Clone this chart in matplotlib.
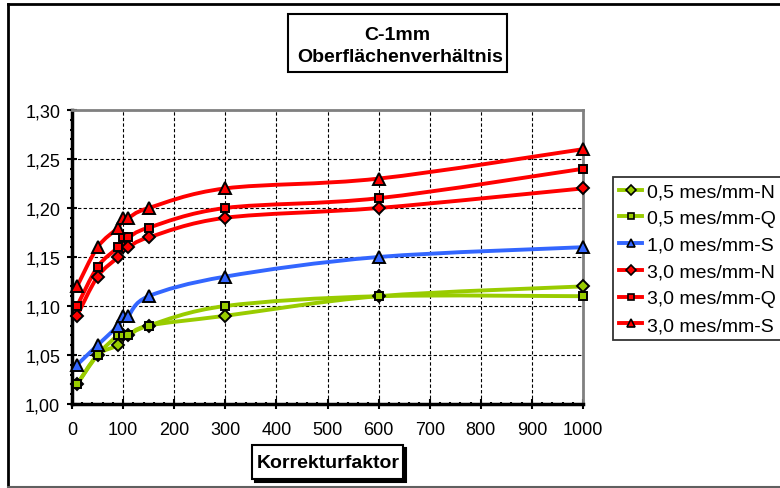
import numpy as np
import matplotlib
matplotlib.use("Agg")
import matplotlib.pyplot as plt
from matplotlib.path import Path
from matplotlib.patches import PathPatch, Rectangle
from matplotlib.lines import Line2D
from matplotlib.ticker import MultipleLocator, FuncFormatter

plt.rcParams['font.family'] = ['Liberation Sans', 'DejaVu Sans']

x = [10, 50, 90, 100, 110, 150, 300, 600, 1000]
series_labels = ["0,5 mes/mm-N", "0,5 mes/mm-Q", "1,0 mes/mm-S",
                 "3,0 mes/mm-N", "3,0 mes/mm-Q", "3,0 mes/mm-S"]
y_05N = [1.02, 1.05, 1.06, 1.07, 1.07, 1.08, 1.09, 1.11, 1.12]
y_05Q = [1.02, 1.05, 1.07, 1.07, 1.07, 1.08, 1.10, 1.11, 1.11]
y_10S = [1.04, 1.06, 1.08, 1.09, 1.09, 1.11, 1.13, 1.15, 1.16]
y_30N = [1.09, 1.13, 1.15, 1.16, 1.16, 1.17, 1.19, 1.20, 1.22]
y_30Q = [1.10, 1.14, 1.16, 1.17, 1.17, 1.18, 1.20, 1.21, 1.24]
y_30S = [1.12, 1.16, 1.18, 1.19, 1.19, 1.20, 1.22, 1.23, 1.26]
series_values = [y_05N, y_05Q, y_10S, y_30N, y_30Q, y_30S]
colors = ["#99CC00", "#99CC00", "#3366FF", "#FF0000", "#FF0000", "#FF0000"]
markers = ["D", "s", "^", "D", "s", "^"]
msizes = [6.5, 6.0, 8.0, 6.5, 6.0, 8.0]
xticks = [0, 100, 200, 300, 400, 500, 600, 700, 800, 900, 1000]
yticks = [1.00, 1.05, 1.10, 1.15, 1.20, 1.25, 1.30]

W, H = 780, 489
fig = plt.figure(figsize=(W / 100, H / 100), dpi=100)
L, R, T, B = 72, 583, 111, 405
ax = fig.add_axes([L / W, 1 - B / H, (R - L) / W, (B - T) / H])


def smooth_path(xs, ys):
    P = np.column_stack([xs, ys]).astype(float)
    n = len(P)
    verts = [P[0]]
    codes = [Path.MOVETO]
    for i in range(n - 1):
        p0 = P[i - 1] if i > 0 else P[i]
        p1 = P[i]
        p2 = P[i + 1]
        p3 = P[i + 2] if i + 2 < n else P[i + 1]
        c1 = p1 + (p2 - p0) / 6.0
        c2 = p2 - (p3 - p1) / 6.0
        verts += [c1, c2, p2]
        codes += [Path.CURVE4] * 3
    return Path(verts, codes)


for ys, c in zip(series_values, colors):
    ax.add_patch(PathPatch(smooth_path(x, ys), fill=False, edgecolor=c,
                           lw=2.8, capstyle='round', joinstyle='round', zorder=3))
for ys, c, m, ms in zip(series_values, colors, markers, msizes):
    ax.plot(x, ys, linestyle='none', marker=m, markersize=ms, markerfacecolor=c,
            markeredgecolor='black', markeredgewidth=1.4, zorder=4, clip_on=False)

ax.set_xlim(0, 1000)
ax.set_ylim(1.0, 1.3)
ax.set_xticks(xticks)
ax.set_yticks(yticks)
ax.xaxis.set_minor_locator(MultipleLocator(20))
ax.yaxis.set_minor_locator(MultipleLocator(0.01))
ax.yaxis.set_major_formatter(FuncFormatter(lambda v, p: f"{v:.2f}".replace(".", ",")))
ax.tick_params(axis='both', which='major', direction='inout', length=7, width=1.5,
               labelsize=13, color='black', pad=5)
ax.tick_params(axis='both', which='minor', direction='inout', length=3.5, width=1.5,
               color='black')
ax.tick_params(axis='x', pad=9)
ax.grid(True, which='major', color='black', linestyle=(0, (3, 2)), linewidth=0.8)
ax.set_axisbelow(True)
for s in ['left', 'bottom']:
    ax.spines[s].set_color('black')
    ax.spines[s].set_linewidth(2.5)
for s in ['top', 'right']:
    ax.spines[s].set_color('#808080')
    ax.spines[s].set_linewidth(2)

# legend
handles = [Line2D([0], [0], color=c, lw=2.8, marker=m, markersize=ms * 0.8,
                  markerfacecolor=c, markeredgecolor='black', markeredgewidth=1.2)
           for c, m, ms in zip(colors, markers, msizes)]
leg = fig.legend(handles, series_labels, loc='upper left',
                 bbox_to_anchor=(613 / W, 1 - 178 / H), fontsize=14,
                 frameon=True, fancybox=False, shadow=False, borderaxespad=0,
                 handlelength=1.2, handletextpad=0.25, labelspacing=0.47,
                 borderpad=0.3, markerscale=1.0)
leg.get_frame().set_edgecolor('black')
leg.get_frame().set_linewidth(1.3)

# title box
fig.patches.append(Rectangle((288 / W, 1 - 73 / H), (507 - 288) / W, (73 - 15) / H,
                             transform=fig.transFigure, facecolor='white',
                             edgecolor='black', lw=1.5))
fig.text(397 / W, 1 - 35 / H, "C-1mm", ha='center', va='center',
         fontsize=14, fontweight='bold')
fig.text(400 / W, 1 - 58 / H, "Oberflächenverhältnis", ha='center', va='center',
         fontsize=14, fontweight='bold')

# x label box with shadow
fig.patches.append(Rectangle((255 / W, 1 - 483 / H), (403 - 252) / W, (480 - 446) / H,
                             transform=fig.transFigure, facecolor='black',
                             edgecolor='black', lw=1.5))
fig.patches.append(Rectangle((252 / W, 1 - 480 / H), (403 - 252) / W, (480 - 446) / H,
                             transform=fig.transFigure, facecolor='white',
                             edgecolor='black', lw=1.5))
fig.text(328 / W, 1 - 464 / H, "Korrekturfaktor", ha='center', va='center',
         fontsize=14, fontweight='bold')

# outer frame
fig.add_artist(Line2D([8 / W, 8 / W], [1 - 5 / H, 1 - 488 / H], color='black', lw=2,
                      transform=fig.transFigure))
fig.add_artist(Line2D([8 / W, 1.0], [1 - 5 / H, 1 - 5 / H], color='black', lw=2,
                      transform=fig.transFigure))
fig.add_artist(Line2D([8 / W, 1.0], [1 - 487.5 / H, 1 - 487.5 / H], color='#606060',
                      lw=1.5, transform=fig.transFigure))

fig.savefig("out.png", dpi=100)
